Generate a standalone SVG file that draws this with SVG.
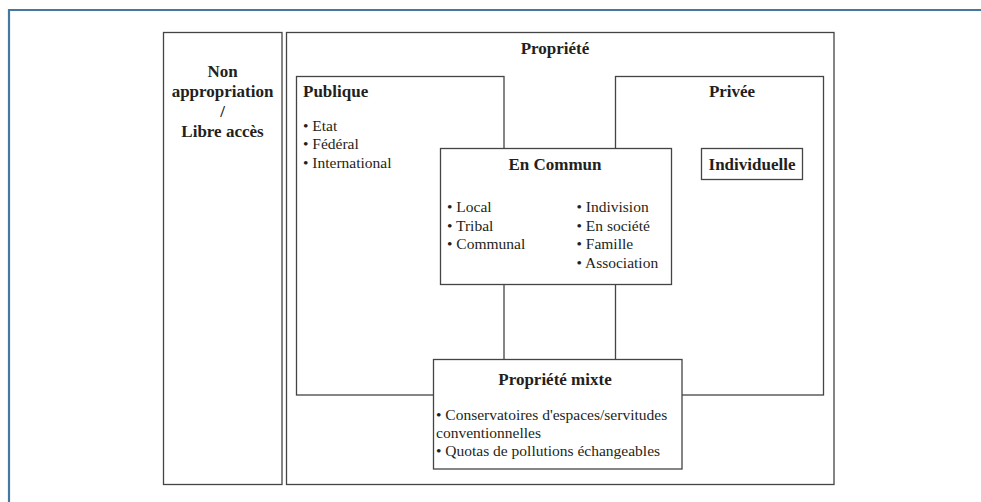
<svg xmlns="http://www.w3.org/2000/svg" width="981" height="502" viewBox="0 0 981 502">
<style>
.box{fill:#fff;stroke:#444;stroke-width:1.3}
.frame{fill:none;stroke:#44789e;stroke-width:2.2}
.b{font-family:"Liberation Serif",serif;font-weight:bold;font-size:17px;fill:#231f20}
.r{font-family:"Liberation Serif",serif;font-size:15.5px;fill:#231f20}
.c{text-anchor:middle}
</style>
<rect width="981" height="502" fill="#fff"/>
<path class="frame" d="M9,502 V10 H981"/>
<g id="non-appropriation">
<rect class="box" x="163.5" y="32.5" width="118.5" height="452"/>
<text class="b c" x="222.5" y="77">Non</text>
<text class="b c" x="222.5" y="97">appropriation</text>
<text class="b c" x="222.5" y="117">/</text>
<text class="b c" x="222.5" y="137">Libre accès</text>
</g>
<g id="propriete">
<rect class="box" x="286.5" y="32.5" width="547.5" height="452"/>
<text class="b c" x="555" y="54">Propriété</text>
</g>
<g id="publique">
<rect class="box" x="296.5" y="76.5" width="207.5" height="318.5"/>
<text class="b" x="303" y="97">Publique</text>
<text class="r" x="303" y="130.5">• Etat</text>
<text class="r" x="303" y="149">• Fédéral</text>
<text class="r" x="303" y="167.5">• International</text>
</g>
<g id="privee">
<rect class="box" x="615.5" y="76.5" width="208" height="318.5"/>
<text class="b c" x="732" y="97">Privée</text>
</g>
<g id="individuelle">
<rect class="box" x="701.5" y="148.5" width="101" height="31"/>
<text class="b c" x="752" y="170">Individuelle</text>
</g>
<g id="en-commun">
<rect class="box" x="440.5" y="148.5" width="231" height="136"/>
<text class="b c" x="555" y="170">En Commun</text>
<text class="r" x="447" y="212">• Local</text>
<text class="r" x="447" y="230.5">• Tribal</text>
<text class="r" x="447" y="249">• Communal</text>
<text class="r" x="576.5" y="212">• Indivision</text>
<text class="r" x="576.5" y="230.5">• En société</text>
<text class="r" x="576.5" y="249">• Famille</text>
<text class="r" x="576.5" y="267.5">• Association</text>
</g>
<g id="propriete-mixte">
<rect class="box" x="433.5" y="359.5" width="248.5" height="109.5"/>
<text class="b c" x="555" y="385">Propriété mixte</text>
<text class="r" x="436" y="419.5">• Conservatoires d'espaces/servitudes</text>
<text class="r" x="436" y="437.5">conventionnelles</text>
<text class="r" x="436" y="456">• Quotas de pollutions échangeables</text>
</g>
<g id="connectors"></g>
</svg>
